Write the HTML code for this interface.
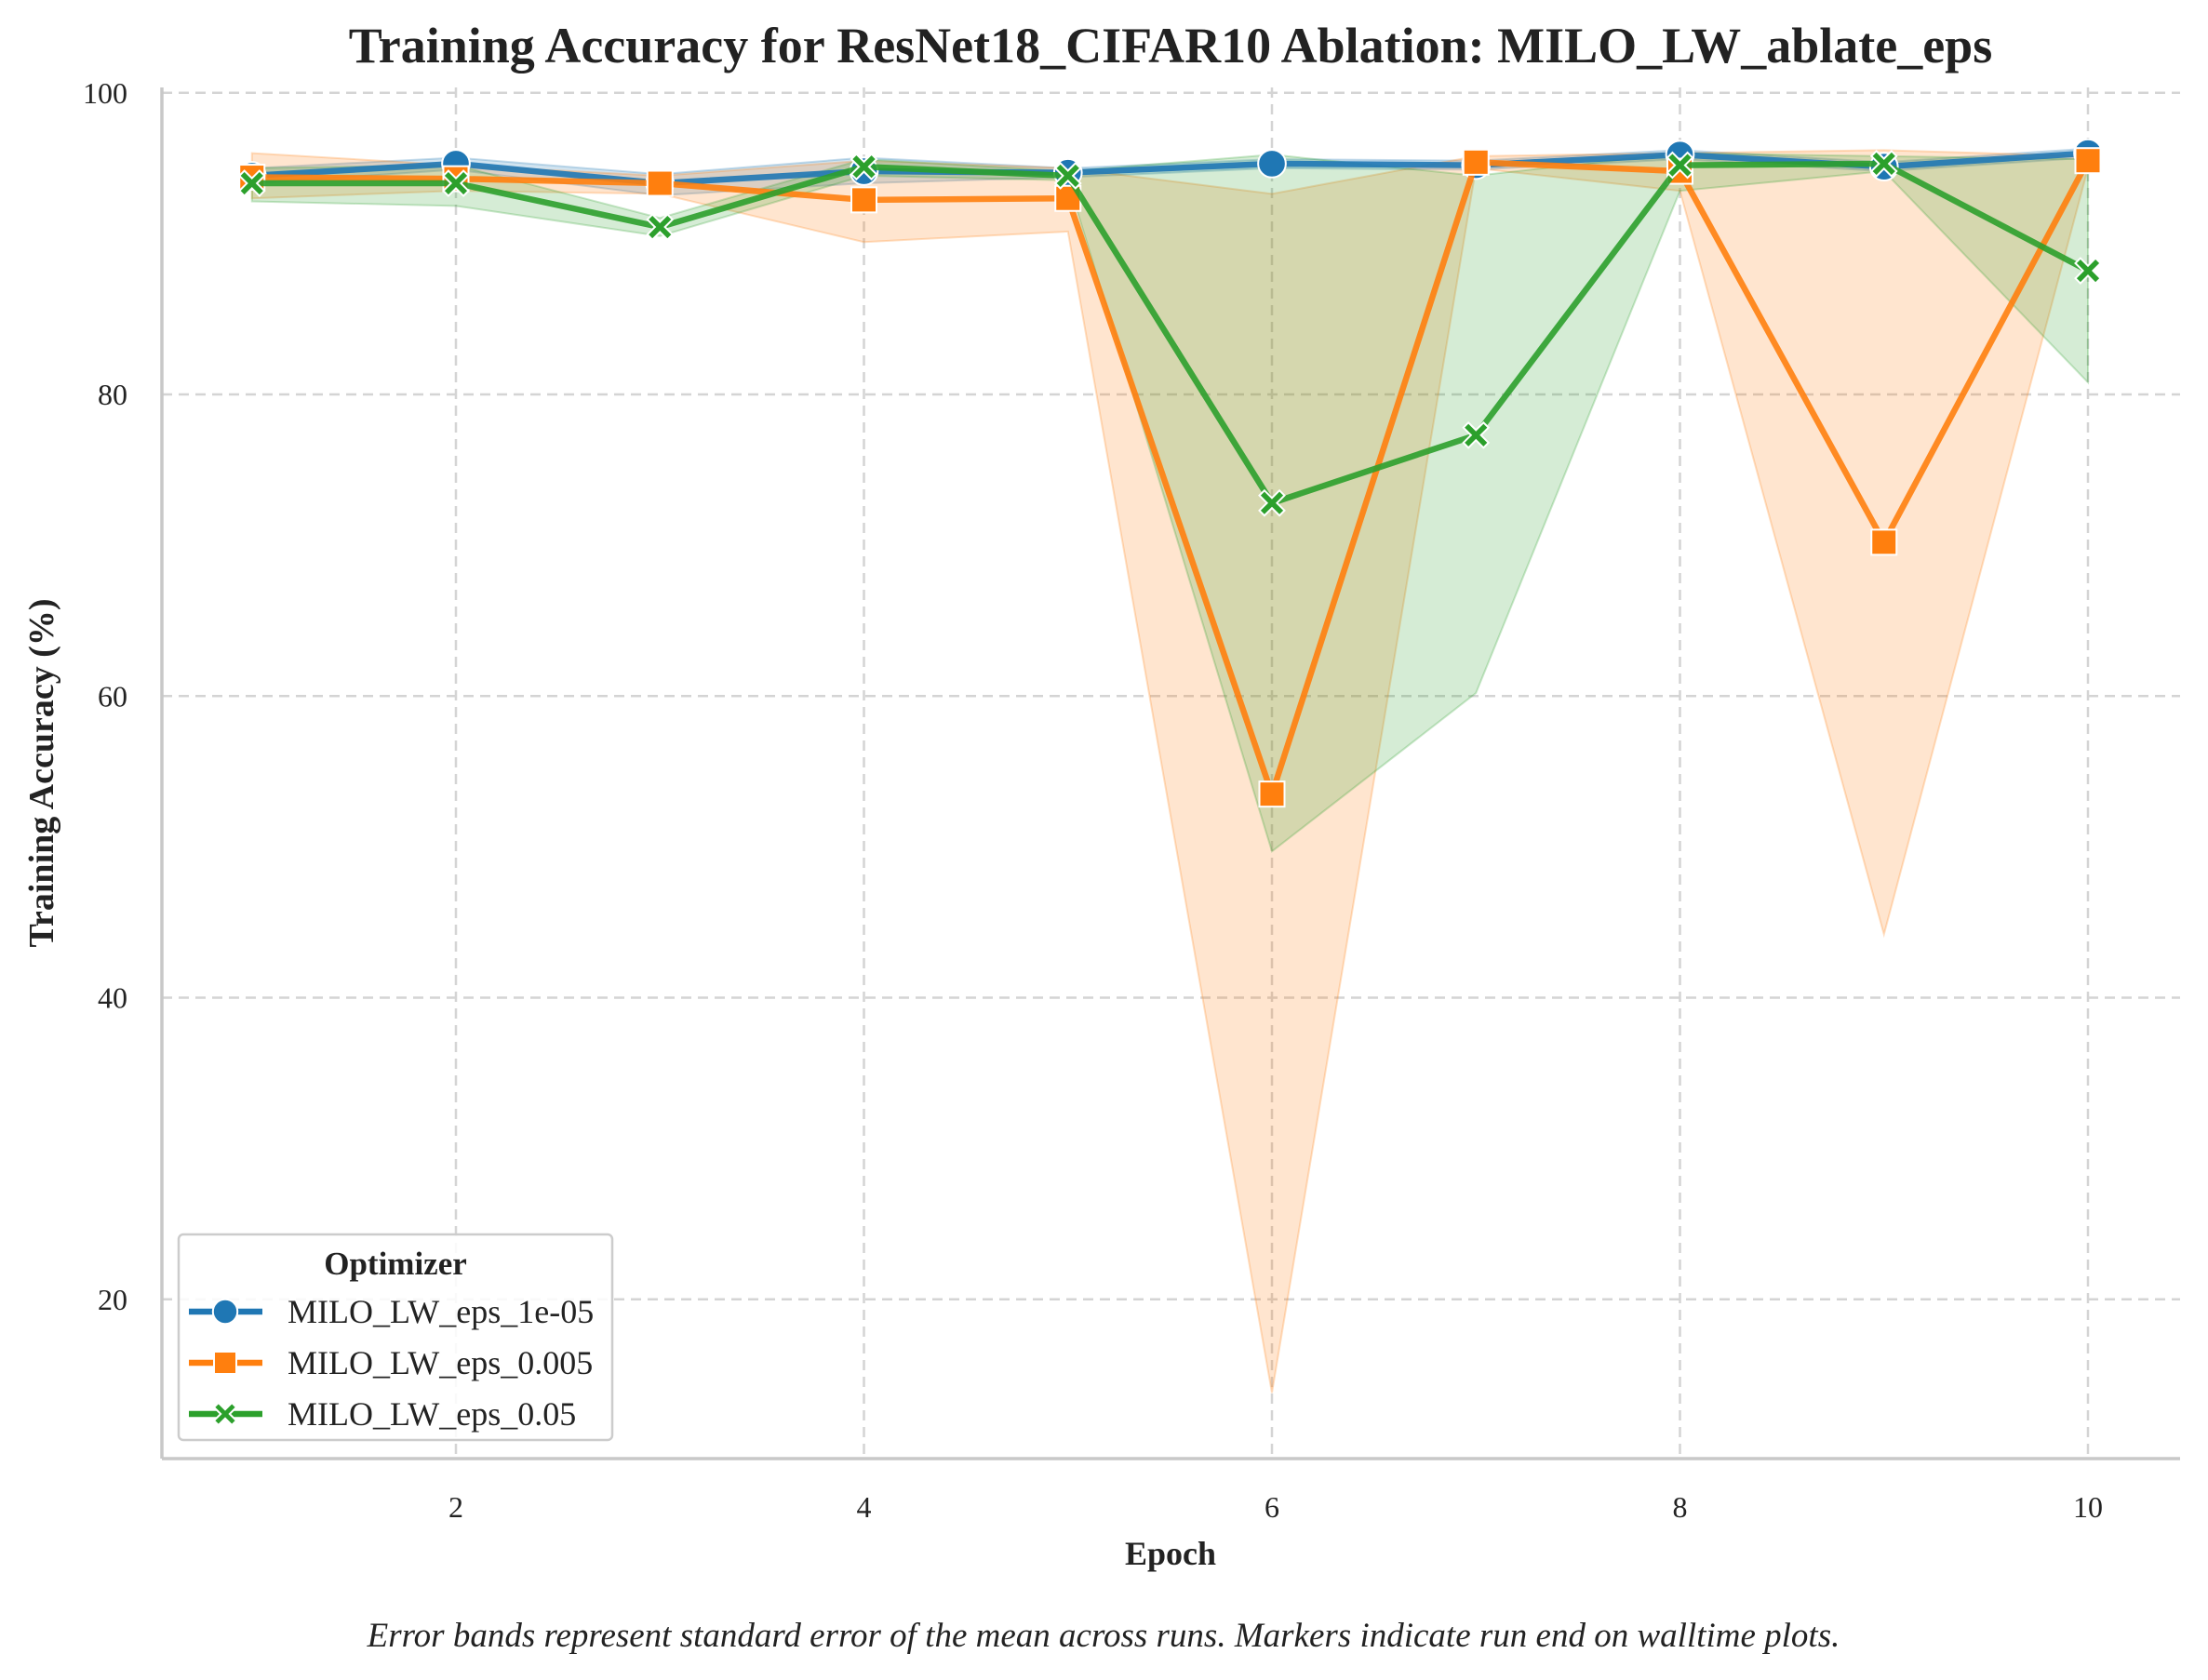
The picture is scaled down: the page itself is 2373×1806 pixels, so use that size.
<!DOCTYPE html>
<html><head><meta charset="utf-8"><style>
html,body{margin:0;padding:0;background:#fff;}
svg{display:block;font-family:"Liberation Serif",serif;}
</style></head><body>
<svg id="chart" width="2373" height="1806" viewBox="0 0 2373 1806" xmlns="http://www.w3.org/2000/svg">
<g id="grid"></g>
<g id="bands"></g>
<g id="lines"></g>
<g id="axes"></g>
<text x="1258" y="67" text-anchor="middle" font-size="54" font-weight="bold" fill="#222">Training Accuracy for ResNet18_CIFAR10 Ablation: MILO_LW_ablate_eps</text>
<text x="1258" y="1682" text-anchor="middle" font-size="36" font-weight="bold" fill="#222">Epoch</text>
<text transform="translate(57,831) rotate(-90)" text-anchor="middle" font-size="38" font-weight="bold" fill="#222">Training Accuracy (%)</text>
<text x="1186" y="1770" text-anchor="middle" font-size="37" font-style="italic" fill="#222">Error bands represent standard error of the mean across runs. Markers indicate run end on walltime plots.</text>
<g id="legend"></g>
</svg>
<script>
const epochs=[1,2,3,4,5,6,7,8,9,10];
const seriesNames=["MILO_LW_eps_1e-05","MILO_LW_eps_0.005","MILO_LW_eps_0.05"];
const blueMean=[94.5,95.3,94.0,94.8,94.7,95.3,95.2,95.9,95.1,96.0];
const blueLow=[94.0,94.9,93.2,94.0,94.4,95.0,94.9,95.6,94.8,95.7];
const blueHigh=[95.0,95.7,94.6,95.7,95.0,95.6,95.5,96.2,95.4,96.3];
const orangeMean=[94.4,94.3,94.0,92.9,93.0,53.5,95.4,94.8,70.2,95.5];
const orangeLow=[93.0,93.5,93.3,90.1,90.8,13.8,95.0,93.5,44.2,95.0];
const orangeHigh=[96.0,95.2,94.5,95.5,95.0,93.3,95.8,96.0,96.2,95.8];
const greenMean=[94.0,94.0,91.1,95.1,94.5,72.8,77.3,95.2,95.3,88.2];
const greenLow=[92.8,92.5,90.5,94.5,94.2,49.7,60.2,93.5,94.8,80.8];
const greenHigh=[95.0,95.2,91.7,95.6,94.8,95.9,94.5,96.0,95.8,95.6];
const xTicks=[2,4,6,8,10];
const yTicks=[20,40,60,80,100];

const NS="http://www.w3.org/2000/svg";
const L=174,R=2343,T=94,B=1568;
const xs=v=>490+(v-2)*219.25;
const ys=v=>1721-v*16.2125;
function mk(tag,attrs,parent){const e=document.createElementNS(NS,tag);for(const k in attrs)e.setAttribute(k,attrs[k]);parent.appendChild(e);return e;}
const grid=document.getElementById('grid'),axes=document.getElementById('axes');
xTicks.forEach(t=>{
  const l=mk('line',{x1:xs(t),x2:xs(t),y1:T,y2:B,stroke:'#d4d4d4','stroke-width':2.5,'stroke-dasharray':'11,7'},grid);
  
  
  const tx=mk('text',{x:xs(t),y:1631,'text-anchor':'middle','font-size':32,fill:'#222'},axes);
  tx.textContent=t;
  
  
});
yTicks.forEach(t=>{
  const l=mk('line',{x1:L,x2:R,y1:ys(t),y2:ys(t),stroke:'#d4d4d4','stroke-width':2.5,'stroke-dasharray':'11,7'},grid);
  
  
  const tx=mk('text',{x:L-37,y:ys(t)+11,'text-anchor':'end','font-size':32,fill:'#222'},axes);
  tx.textContent=t;
  
  
});
const sl=mk('line',{x1:L,x2:L,y1:T,y2:B,stroke:'#c8c8c8','stroke-width':3.5},axes);


const sb=mk('line',{x1:L,x2:R,y1:B,y2:B,stroke:'#c8c8c8','stroke-width':3.5},axes);



const series=[
 {name:seriesNames[0],color:'#1f77b4',mean:blueMean,low:blueLow,high:blueHigh,m:'circle'},
 {name:seriesNames[1],color:'#ff7f0e',mean:orangeMean,low:orangeLow,high:orangeHigh,m:'square'},
 {name:seriesNames[2],color:'#2ca02c',mean:greenMean,low:greenLow,high:greenHigh,m:'x'}];
const bands=document.getElementById('bands'),lines=document.getElementById('lines');
function marker(type,x,y,color,parent,sz){
  let e;
  if(type==='circle')e=mk('circle',{cx:x,cy:y,r:sz*0.55,fill:color,stroke:'#fff','stroke-width':2},parent);
  else if(type==='square')e=mk('rect',{x:x-sz*0.5,y:y-sz*0.5,width:sz,height:sz,fill:color,stroke:'#fff','stroke-width':2},parent);
  else{const s=sz*0.5,w=sz*0.2;
    const p=`M${x-s},${y-s+w}L${x-s+w},${y-s}L${x},${y-w}L${x+s-w},${y-s}L${x+s},${y-s+w}L${x+w},${y}L${x+s},${y+s-w}L${x+s-w},${y+s}L${x},${y+w}L${x-s+w},${y+s}L${x-s},${y+s-w}L${x-w},${y}Z`;
    e=mk('path',{d:p,fill:color,stroke:'#fff','stroke-width':2},parent);}
  return e;
}
series.forEach((s,i)=>{
  let d='M'+epochs.map((e,j)=>xs(e)+','+ys(s.high[j])).join('L')+'L'+epochs.slice().reverse().map((e,k)=>{const j=epochs.length-1-k;return xs(e)+','+ys(s.low[j]);}).join('L')+'Z';
  const b=mk('path',{d:d,fill:s.color,'fill-opacity':0.2,stroke:s.color,'stroke-opacity':0.25,'stroke-width':2},bands);
  
  
});
series.forEach((s,i)=>{
  const pl=mk('polyline',{points:epochs.map((e,j)=>xs(e)+','+ys(s.mean[j])).join(' '),fill:'none',stroke:s.color,'stroke-width':6.5,'stroke-linejoin':'round','stroke-opacity':0.9},lines);
  
  
  epochs.forEach((e,j)=>{
    const m=marker(s.m,xs(e),ys(s.mean[j]),s.color,lines,27);
    
    
  });
});
const lg=document.getElementById('legend');
const box=mk('rect',{x:192,y:1327,width:466,height:221,rx:5,fill:'#fff','fill-opacity':0.85,stroke:'#ccc','stroke-width':2.5},lg);


const lt=mk('text',{x:425,y:1370,'text-anchor':'middle','font-size':35,'font-weight':'bold',fill:'#222'},lg);
lt.textContent='Optimizer';


series.forEach((s,i)=>{
  const y=1410+i*55;
  const g=mk('g',{},lg);
  
  
  mk('line',{x1:203,x2:282,y1:y,y2:y,stroke:s.color,'stroke-width':6.5},g);
  marker(s.m,242,y,s.color,g,24);
  const t=mk('text',{x:309,y:y+12,'font-size':36,fill:'#222'},g);
  t.textContent=s.name;
});
</script>
</body></html>
